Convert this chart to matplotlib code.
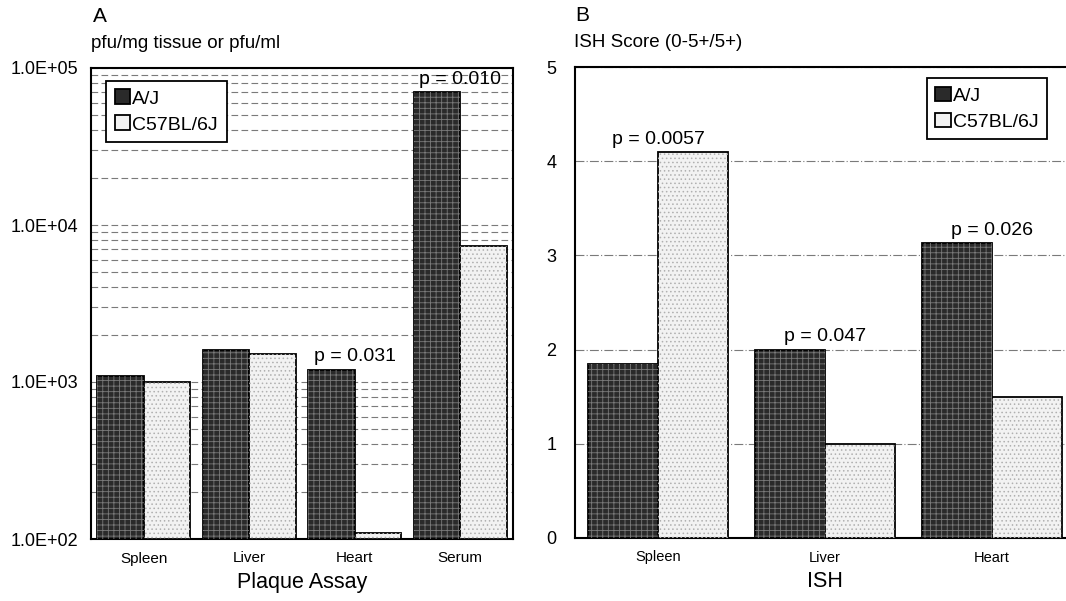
import matplotlib
matplotlib.use("Agg")
import matplotlib.pyplot as plt
from matplotlib.ticker import FixedLocator, FuncFormatter
import numpy as np

plt.rcParams['font.family'] = ['Liberation Sans', 'DejaVu Sans']
plt.rcParams['hatch.linewidth'] = 0.6

# data
plaque_cats = ["Spleen", "Liver", "Heart", "Serum"]
plaque_aj = [1100, 1600, 1200, 70000]
plaque_b6 = [1000, 1500, 110, 7400]
plaque_p = ["", "", "p = 0.031", "p = 0.010"]

ish_cats = ["Spleen", "Liver", "Heart"]
ish_aj = [1.85, 2.0, 3.13]
ish_b6 = [4.1, 1.0, 1.5]
ish_p = ["p = 0.0057", "p = 0.047", "p = 0.026"]

series_names = ["A/J", "C57BL/6J"]

W, H = 1066, 601
fig = plt.figure(figsize=(W / 100, H / 100), dpi=100)

ax1 = fig.add_axes([91 / W, (H - 539) / H, (513 - 91) / W, (539 - 68) / H])
ax2 = fig.add_axes([574.5 / W, (H - 538) / H, 501 / W, (538 - 67) / H])

dark = "#2a2a2a"
light = "#f2f2f2"


def draw_bars(ax, cats, aj, b6, width, bottom=0):
    x = np.arange(len(cats))
    b1 = ax.bar(x - width / 2, np.array(aj) - bottom, width, bottom=bottom,
                color=dark, edgecolor="black", linewidth=1.3, zorder=3,
                label=series_names[0])
    ax.bar(x - width / 2, np.array(aj) - bottom, width, bottom=bottom,
           fill=False, hatch="+++", edgecolor="#7a7a7a", linewidth=0, zorder=4)
    b2 = ax.bar(x + width / 2, np.array(b6) - bottom, width, bottom=bottom,
                color=light, edgecolor="black", linewidth=1.3, zorder=3,
                label=series_names[1])
    ax.bar(x + width / 2, np.array(b6) - bottom, width, bottom=bottom,
           fill=False, hatch="....", edgecolor="#b0b0b0", linewidth=0, zorder=4)
    return x, b1, b2


def add_pvals(ax, x, aj, b6, labels):
    for xi, a, b, lab in zip(x, aj, b6, labels):
        if lab:
            ax.annotate(lab, (xi, max(a, b)), xytext=(0, 3),
                        textcoords="offset points", ha="center", va="bottom",
                        fontsize=14)


def style_legend(ax, anchor):
    leg = ax.legend(loc="upper left", bbox_to_anchor=anchor, fontsize=14,
                    fancybox=False, edgecolor="black", framealpha=1,
                    handlelength=0.8, handleheight=0.8, handletextpad=0.1,
                    borderpad=0.45, labelspacing=0.4, borderaxespad=0)
    leg.get_frame().set_linewidth(1.3)
    return leg


# Panel A - plaque assay (log scale)
ax1.set_yscale("log")
x1, _, _ = draw_bars(ax1, plaque_cats, plaque_aj, plaque_b6, 0.44, bottom=100)
ax1.set_ylim(100, 1e5)
ax1.set_xlim(-0.5, len(plaque_cats) - 0.5)
ax1.yaxis.set_major_locator(FixedLocator([1e2, 1e3, 1e4, 1e5]))
ax1.yaxis.set_major_formatter(FuncFormatter(lambda v, p: "%.1E" % v))
ax1.grid(True, which="both", axis="y", color="#7a7a7a", linestyle=(0, (6, 3)),
         linewidth=0.8, zorder=0)
ax1.set_axisbelow(True)
add_pvals(ax1, x1, plaque_aj, plaque_b6, plaque_p)
ax1.set_xticks(x1)
ax1.set_xticklabels(plaque_cats, fontsize=11)
ax1.set_xlabel("Plaque Assay", fontsize=15.5, labelpad=5)
ax1.tick_params(axis="y", which="both", length=0, labelsize=13, pad=9)
ax1.tick_params(axis="x", length=0, pad=9)
ax1.text(0.0, 1.035, "pfu/mg tissue or pfu/ml", transform=ax1.transAxes,
         fontsize=13.5, ha="left", va="bottom")
ax1.text(0.005, 1.09, "A", transform=ax1.transAxes, fontsize=15,
         ha="left", va="bottom")
style_legend(ax1, (0.036, 0.973))

# Panel B - ISH score
x2, _, _ = draw_bars(ax2, ish_cats, ish_aj, ish_b6, 0.42)
ax2.set_ylim(0, 5)
ax2.set_xlim(-0.5, len(ish_cats) - 0.5)
ax2.set_yticks([0, 1, 2, 3, 4, 5])
ax2.grid(True, axis="y", color="#7a7a7a", linestyle=(0, (8, 2, 1, 2)),
         linewidth=0.8, zorder=0)
ax2.set_axisbelow(True)
add_pvals(ax2, x2, ish_aj, ish_b6, ish_p)
ax2.set_xticks(x2)
ax2.set_xticklabels(ish_cats, fontsize=10.5)
ax2.set_xlabel("ISH", fontsize=15.5, labelpad=5)
ax2.tick_params(axis="y", length=0, labelsize=13, pad=13)
ax2.tick_params(axis="x", length=0, pad=9)
ax2.text(0.0, 1.035, "ISH Score (0-5+/5+)", transform=ax2.transAxes,
         fontsize=13.5, ha="left", va="bottom")
ax2.text(0.002, 1.09, "B", transform=ax2.transAxes, fontsize=15,
         ha="left", va="bottom")
style_legend(ax2, (0.703, 0.977))

for ax in (ax1, ax2):
    for s in ax.spines.values():
        s.set_linewidth(1.5)

fig.savefig("out.png", dpi=100)
